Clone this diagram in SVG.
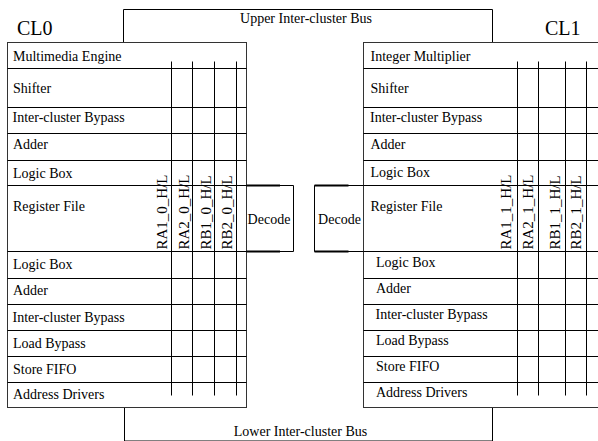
<svg xmlns="http://www.w3.org/2000/svg" width="598" height="441" viewBox="0 0 598 441">
<style>
.t{font-size:14px;fill:#000}
.big{font-size:20px}
.vl{font-size:15px}
.ln{stroke:#000;stroke-width:1;fill:none}
.gl{stroke:#333;stroke-width:1;fill:none}
.thick{stroke:#000;stroke-width:2.2;fill:none}
.mid{text-anchor:middle}
</style>
<rect width="598" height="441" fill="#fff"/>
<g font-family="Liberation Serif, Times New Roman, serif" font-size="14">
<g id="connectors">
<path id="upper-bus" class="ln" d="M123.5 42.5V9.5H492.5V42.5"/>
<path id="lower-bus" class="ln" d="M124.5 407.5V441H492.5V407.5"/>
</g>
<g id="upper-bus-label"><text x="306" y="22.5" class="t mid">Upper Inter-cluster Bus</text></g>
<g id="lower-bus-label"><text x="300.5" y="436" class="t mid">Lower Inter-cluster Bus</text></g>
<g id="CL0">
<text x="17" y="35" class="t big">CL0</text>
<rect x="7.5" y="42.5" width="239" height="365" class="gl"/>
<path class="ln" d="M7.5 68.5H246.5M7.5 107.5H246.5M7.5 133.5H246.5M7.5 160.5H246.5M7.5 185.5H246.5M7.5 251.5H246.5M7.5 278.5H246.5M7.5 304.5H246.5M7.5 330.5H246.5M7.5 356.5H246.5M7.5 382.5H246.5"/>
<path class="ln" d="M171.5 61.5V395.5M192.5 61.5V395.5M214.5 61.5V395.5M236.5 61.5V395.5"/>
<text x="13" y="61" class="t">Multimedia Engine</text>
<text x="13" y="93" class="t">Shifter</text>
<text x="12.5" y="122" class="t">Inter-cluster Bypass</text>
<text x="13" y="148.5" class="t">Adder</text>
<text x="13" y="178" class="t">Logic Box</text>
<text x="13" y="210.5" class="t">Register File</text>
<text x="13" y="269" class="t">Logic Box</text>
<text x="13" y="295" class="t">Adder</text>
<text x="12.5" y="321.5" class="t">Inter-cluster Bypass</text>
<text x="13" y="348" class="t">Load Bypass</text>
<text x="13" y="374" class="t">Store FIFO</text>
<text x="13" y="399" class="t">Address Drivers</text>
<text class="t vl" transform="translate(167,249.5) rotate(-90)">RA1_0_H/L</text>
<text class="t vl" transform="translate(188.5,249.5) rotate(-90)">RA2_0_H/L</text>
<text class="t vl" transform="translate(210.5,249.5) rotate(-90)">RB1_0_H/L</text>
<text class="t vl" transform="translate(232,249.5) rotate(-90)">RB2_0_H/L</text>
</g>
<g id="decode0">
<path class="ln" d="M246.5 185.5H293.5V251.5H246.5"/>
<path class="thick" d="M246.5 185.5H280M246.5 251.5H280"/>
<text x="269" y="224" class="t mid">Decode</text>
</g>
<g id="CL1">
<text x="545" y="35" class="t big">CL1</text>
<rect x="363.5" y="42.5" width="250" height="365" class="gl"/>
<path class="ln" d="M363.5 68.5H598M363.5 107.5H598M363.5 133.5H598M363.5 160.5H598M363.5 185.5H598M363.5 251.5H598M363.5 278.5H598M363.5 304.5H598M363.5 330.5H598M363.5 356.5H598M363.5 382.5H598"/>
<path class="ln" d="M517.5 61.5V395.5M538.5 61.5V395.5M565.5 61.5V395.5M586.5 61.5V395.5"/>
<text x="370.5" y="61" class="t">Integer Multiplier</text>
<text x="370.5" y="93" class="t">Shifter</text>
<text x="370" y="122" class="t">Inter-cluster Bypass</text>
<text x="370.5" y="148.5" class="t">Adder</text>
<text x="370.5" y="177" class="t">Logic Box</text>
<text x="370.5" y="211" class="t">Register File</text>
<text x="376" y="267" class="t">Logic Box</text>
<text x="376" y="293" class="t">Adder</text>
<text x="375.5" y="318.5" class="t">Inter-cluster Bypass</text>
<text x="376" y="344.5" class="t">Load Bypass</text>
<text x="376" y="371" class="t">Store FIFO</text>
<text x="376" y="397" class="t">Address Drivers</text>
<text class="t vl" transform="translate(511,249.5) rotate(-90)">RA1_1_H/L</text>
<text class="t vl" transform="translate(533,249.5) rotate(-90)">RA2_1_H/L</text>
<text class="t vl" transform="translate(559.5,249.5) rotate(-90)">RB1_1_H/L</text>
<text class="t vl" transform="translate(581,249.5) rotate(-90)">RB2_1_H/L</text>
</g>
<g id="decode1">
<path class="ln" d="M363.5 185.5H314.5V251.5H363.5"/>
<path class="thick" d="M314.5 185.5H348.5M314.5 251.5H348.5"/>
<text x="339.5" y="224" class="t mid">Decode</text>
</g>
</g>
</svg>
